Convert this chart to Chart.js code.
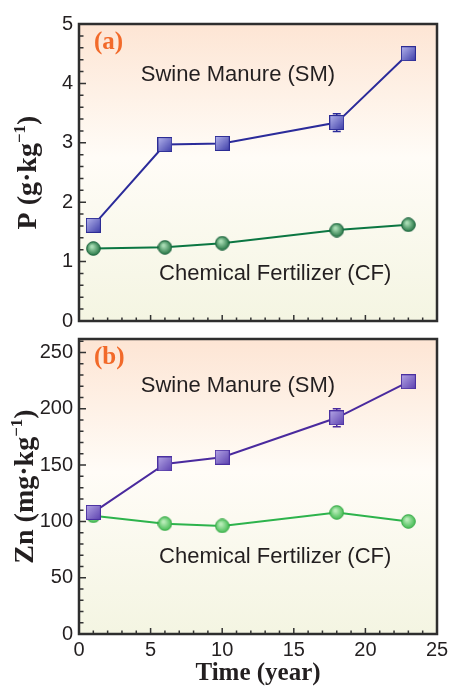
<!DOCTYPE html>
<html lang="en">
<head>
    <meta charset="UTF-8">
    <title>P and Zn over time</title>
    <script src="https://cdn.jsdelivr.net/npm/chart.js"></script>
    <style>
        body { margin: 0; background: #fff; }
        #wrap { position: relative; width: 449px; height: 686px; }
        canvas { position: absolute; left: 0; }
        #chartP { top: 0; }
        #chartZn { top: 330px; }
    </style>
</head>
<body>
<div id="wrap">
    <canvas id="chartP" width="449" height="330"></canvas>
    <canvas id="chartZn" width="449" height="356"></canvas>
</div>

<script>
    // data
    const years = [1, 6, 10, 18, 23];
    const xTickValues = [0, 5, 10, 15, 20, 25];
    const pTickValues = [0, 1, 2, 3, 4, 5];
    const znTickValues = [0, 50, 100, 150, 200, 250];

    const pSM = [1.61, 2.97, 2.99, 3.34, 4.50];
    const pSMErr = [0, 0, 0, 0.15, 0];
    const pCF = [1.22, 1.24, 1.31, 1.53, 1.62];

    const znSM = [108, 151, 157, 192, 224];
    const znSMErr = [0, 0, 0, 8, 0];
    const znCF = [105, 98, 96, 108, 100];

    const tickFont = { family: "'Liberation Sans', Arial, sans-serif", size: 20 };
    const labelFont = "22px 'Liberation Sans', Arial, sans-serif";
    const serifBold = "'Liberation Serif', 'Times New Roman', serif";

    function squareMarker(light, dark, edge) {
        const c = document.createElement('canvas');
        c.width = 15; c.height = 15;
        const g = c.getContext('2d');
        const grad = g.createLinearGradient(0, 0, 15, 15);
        grad.addColorStop(0, light);
        grad.addColorStop(1, dark);
        g.fillStyle = grad;
        g.fillRect(0.5, 0.5, 14, 14);
        g.strokeStyle = edge;
        g.lineWidth = 1;
        g.strokeRect(0.5, 0.5, 14, 14);
        return c;
    }

    function ballMarker(light, dark, edge) {
        const c = document.createElement('canvas');
        c.width = 15; c.height = 15;
        const g = c.getContext('2d');
        const grad = g.createRadialGradient(6, 5.5, 1, 7.5, 7.5, 7.5);
        grad.addColorStop(0, light);
        grad.addColorStop(1, dark);
        g.beginPath();
        g.arc(7.5, 7.5, 6.8, 0, Math.PI * 2);
        g.fillStyle = grad;
        g.fill();
        g.strokeStyle = edge;
        g.lineWidth = 1;
        g.stroke();
        return c;
    }

    function makePanel(canvasId, cfg) {
        const deco = {
            id: 'deco',
            beforeDraw(chart) {
                const { ctx, chartArea: a } = chart;
                const g = ctx.createLinearGradient(0, a.top, 0, a.bottom);
                g.addColorStop(0, '#fde5d4');
                g.addColorStop(0.45, '#fffcf7');
                g.addColorStop(1, '#f4f5e2');
                ctx.save();
                ctx.fillStyle = g;
                ctx.fillRect(a.left, a.top, a.right - a.left, a.bottom - a.top);
                ctx.restore();
            },
            beforeDatasetsDraw(chart) {
                // error bars sit behind the markers
                const { ctx, scales: { x, y } } = chart;
                ctx.save();
                ctx.lineWidth = 1.5;
                ctx.strokeStyle = cfg.smLine;
                cfg.smErr.forEach((e, i) => {
                    if (!e) return;
                    const px = x.getPixelForValue(years[i]);
                    const y1 = y.getPixelForValue(cfg.sm[i] + e);
                    const y2 = y.getPixelForValue(cfg.sm[i] - e);
                    ctx.beginPath();
                    ctx.moveTo(px, y1); ctx.lineTo(px, y2);
                    ctx.moveTo(px - 4, y1); ctx.lineTo(px + 4, y1);
                    ctx.moveTo(px - 4, y2); ctx.lineTo(px + 4, y2);
                    ctx.stroke();
                });
                ctx.restore();
            },
            afterDraw(chart) {
                const { ctx, chartArea: a, scales: { x, y } } = chart;
                ctx.save();
                // inward ticks
                ctx.strokeStyle = '#333';
                ctx.lineWidth = 1.5;
                ctx.beginPath();
                for (let v = 0; v <= 25; v += 1) {
                    const px = x.getPixelForValue(v);
                    const len = v % 5 === 0 ? 6 : 3.5;
                    ctx.moveTo(px, a.bottom); ctx.lineTo(px, a.bottom - len);
                }
                for (let k = 0; k * cfg.minorStep <= y.max + 1e-9; k++) {
                    const v = k * cfg.minorStep;
                    const py = y.getPixelForValue(v);
                    const len = k % cfg.minorPerMajor === 0 ? 7 : 4.5;
                    ctx.moveTo(a.left, py); ctx.lineTo(a.left + len, py);
                }
                ctx.stroke();
                // frame
                ctx.lineWidth = 2.5;
                ctx.strokeStyle = '#2e2e2e';
                ctx.strokeRect(a.left, a.top, a.right - a.left, a.bottom - a.top);

                // panel letter
                ctx.fillStyle = '#f26a2a';
                ctx.font = "bold 25px " + serifBold;
                ctx.textBaseline = 'middle';
                ctx.textAlign = 'left';
                ctx.fillText(cfg.letter, a.left + 15, a.top + 19);

                // series names
                ctx.fillStyle = '#231f20';
                ctx.font = labelFont;
                ctx.textAlign = 'center';
                ctx.fillText('Swine Manure (SM)', x.getPixelForValue(11.1), y.getPixelForValue(cfg.smLabelY));
                ctx.fillText('Chemical Fertilizer (CF)', x.getPixelForValue(13.7), y.getPixelForValue(cfg.cfLabelY));

                // rotated y title with superscript
                const size = 28;
                const main = cfg.yTitle[0], sup = '\u22121', tail = ')';
                ctx.font = 'bold ' + size + 'px ' + serifBold;
                const wMain = ctx.measureText(main).width;
                const wTail = ctx.measureText(tail).width;
                ctx.font = 'bold ' + Math.round(size * 0.6) + 'px ' + serifBold;
                const wSup = ctx.measureText(sup).width;
                const total = wMain + wSup + wTail;
                ctx.translate(cfg.yTitleX, (a.top + a.bottom) / 2);
                ctx.rotate(-Math.PI / 2);
                ctx.textAlign = 'left';
                ctx.textBaseline = 'alphabetic';
                let cx = -total / 2;
                ctx.font = 'bold ' + size + 'px ' + serifBold;
                ctx.fillText(main, cx, 0);
                cx += wMain;
                ctx.font = 'bold ' + Math.round(size * 0.6) + 'px ' + serifBold;
                ctx.fillText(sup, cx, -size * 0.38);
                cx += wSup;
                ctx.font = 'bold ' + size + 'px ' + serifBold;
                ctx.fillText(tail, cx, 0);
                ctx.restore();
            }
        };

        return new Chart(document.getElementById(canvasId), {
            type: 'scatter',
            data: {
                datasets: [
                    {
                        label: 'Swine Manure (SM)',
                        data: years.map((v, i) => ({ x: v, y: cfg.sm[i] })),
                        showLine: true,
                        borderColor: cfg.smLine,
                        borderWidth: 2,
                        pointStyle: cfg.smMarker,
                        pointRadius: 7
                    },
                    {
                        label: 'Chemical Fertilizer (CF)',
                        data: years.map((v, i) => ({ x: v, y: cfg.cf[i] })),
                        showLine: true,
                        borderColor: cfg.cfLine,
                        borderWidth: 2,
                        pointStyle: cfg.cfMarker,
                        pointRadius: 7
                    }
                ]
            },
            options: {
                responsive: false,
                animation: false,
                events: [],
                layout: { padding: cfg.padding },
                plugins: { legend: { display: false }, tooltip: { enabled: false } },
                scales: {
                    x: {
                        type: 'linear',
                        min: 0,
                        max: 25,
                        afterBuildTicks: s => { s.ticks = xTickValues.map(v => ({ value: v })); },
                        afterFit: s => { s.height = cfg.xHeight; s.paddingLeft = 0; s.paddingRight = 0; },
                        grid: { display: false, drawTicks: false },
                        border: { display: false },
                        ticks: { display: cfg.showX, font: tickFont, color: '#231f20', padding: 4, maxRotation: 0 },
                        title: {
                            display: cfg.showX,
                            text: 'Time (year)',
                            color: '#231f20',
                            font: { family: serifBold, size: 25, weight: 'bold', lineHeight: 1 },
                            padding: { top: 0, bottom: 0 }
                        }
                    },
                    y: {
                        min: 0,
                        max: cfg.yMax,
                        afterBuildTicks: s => { s.ticks = cfg.yTicks.map(v => ({ value: v })); },
                        afterFit: s => { s.width = 79; s.paddingTop = 0; s.paddingBottom = 0; },
                        grid: { display: false, drawTicks: false },
                        border: { display: false },
                        ticks: { font: tickFont, color: '#231f20', padding: 6 }
                    }
                }
            },
            plugins: [deco]
        });
    }

    makePanel('chartP', {
        letter: '(a)',
        sm: pSM, smErr: pSMErr, cf: pCF,
        yMax: 5, yTicks: pTickValues, minorStep: 0.2, minorPerMajor: 5,
        smLine: '#2b2b9a', cfLine: '#0b7642',
        smMarker: squareMarker('#b8b8ee', '#3a3aa6', '#2c2c94'),
        cfMarker: ballMarker('#a8dcb4', '#1c6e3c', '#17603a'),
        smLabelY: 4.14, cfLabelY: 0.79,
        yTitle: ['P (g\u00b7kg'], yTitleX: 36,
        padding: { left: 0, right: 12, top: 24, bottom: 0 },
        xHeight: 8, showX: false
    });

    makePanel('chartZn', {
        letter: '(b)',
        sm: znSM, smErr: znSMErr, cf: znCF,
        yMax: 262, yTicks: znTickValues, minorStep: 10, minorPerMajor: 5,
        smLine: '#4a2a9e', cfLine: '#2db34c',
        smMarker: squareMarker('#b6a8e6', '#5a3fae', '#4a30a0'),
        cfMarker: ballMarker('#b8ecb8', '#3cb84c', '#34a844'),
        smLabelY: 220.5, cfLabelY: 68,
        yTitle: ['Zn (mg\u00b7kg'], yTitleX: 33,
        padding: { left: 0, right: 12, top: 6, bottom: 0 },
        xHeight: 52, showX: true
    });
</script>
</body>
</html>
